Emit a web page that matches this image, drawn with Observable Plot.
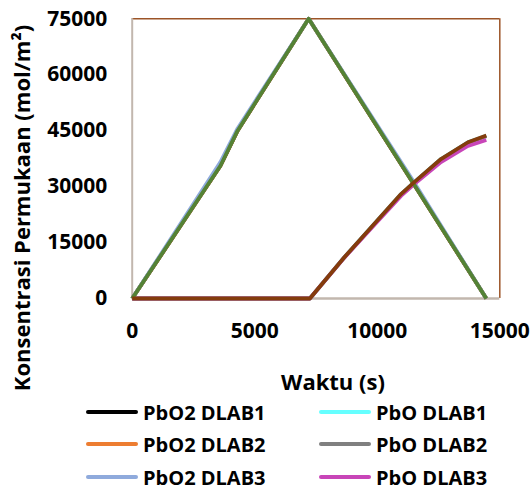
<!DOCTYPE html>
<html>
<head>
<meta charset="utf-8">
<script src="https://cdn.jsdelivr.net/npm/d3@7"></script>
<script src="https://cdn.jsdelivr.net/npm/@observablehq/plot@0.6"></script>
<style>
  html, body { margin: 0; padding: 0; background: #fff; }
  #wrap { position: relative; width: 532px; height: 489px; overflow: hidden; font-family: "Open Sans", sans-serif; font-weight: bold; }
  .lg { position: absolute; display: flex; align-items: center; font-size: 20px; color: #000; white-space: nowrap; }
  .sw { width: 52px; height: 4px; border-radius: 2px; margin-right: 5px; }
</style>
</head>
<body>
<div id="wrap"></div>
<script>
// ---- data ----
const seriesNames = ["PbO2 DLAB1", "PbO DLAB1", "PbO2 DLAB2", "PbO DLAB2", "PbO2 DLAB3", "PbO DLAB3", "PbO2 DLAB4", "PbO DLAB4"];
const seriesColors = ["#000000", "#66FFFF", "#ED7D31", "#808080", "#8FAADC", "#C845B8", "#548235", "#843C0C"];
const legendShown = [true, true, true, true, true, true, false, false];

// PbO2 time points (s)
const timePbO2 = [0, 3600, 4300, 7200, 11450, 14450];
const pbo2DLAB1 = [0, 35600, 45000, 75000, 31100, 0];
const pbo2DLAB2 = [0, 35600, 45000, 75000, 31100, 0];
const pbo2DLAB3 = [0, 36600, 45600, 75000, 31700, 0];
const pbo2DLAB4 = [0, 35600, 45000, 75000, 31100, 0];

// PbO time points (s)
const timePbO = [0, 7250, 8650, 10000, 10970, 11500, 12600, 13700, 14450];
const pboDLAB1 = [0, 0, 11000, 20900, 28000, 31150, 37400, 41900, 43600];
const pboDLAB2 = [0, 0, 11000, 20800, 27900, 31050, 37300, 41800, 43500];
const pboDLAB3 = [0, 0, 10900, 20600, 27500, 30600, 36600, 40900, 42500];
const pboDLAB4 = [0, 0, 11000, 20900, 28000, 31150, 37400, 41900, 43700];

const xTicks = [0, 5000, 10000, 15000];
const yTicks = [0, 15000, 30000, 45000, 60000, 75000];
const xTitle = "Waktu (s)";
const yTitle = "Konsentrasi Permukaan (mol/m²)";

// ---- build table ----
const seriesData = [
  [timePbO2, pbo2DLAB1], [timePbO, pboDLAB1],
  [timePbO2, pbo2DLAB2], [timePbO, pboDLAB2],
  [timePbO2, pbo2DLAB3], [timePbO, pboDLAB3],
  [timePbO2, pbo2DLAB4], [timePbO, pboDLAB4]
];
const lineMarks = seriesData.map(([ts, vs], i) =>
  Plot.line(ts.map((t, k) => ({t, v: vs[k], s: seriesNames[i]})), {
    x: "t", y: "v", stroke: seriesColors[i], strokeWidth: 3.8,
    strokeLinejoin: "round", strokeLinecap: "butt"
  })
);

const chart = Plot.plot({
  width: 532,
  height: 400,
  marginLeft: 131.7,
  marginRight: 32.7,
  marginTop: 18.3,
  marginBottom: 102,
  style: { fontFamily: "'Open Sans', sans-serif", fontSize: "21px", fontWeight: "bold", color: "#000", background: "transparent", overflow: "visible" },
  x: { domain: [0, 15000], ticks: xTicks, tickFormat: d3.format("d"), tickSize: 0, tickPadding: 25, label: null },
  y: { domain: [0, 75000], ticks: yTicks, tickFormat: d3.format("d"), tickSize: 0, tickPadding: 25, label: null },
  marks: [
    Plot.ruleY([75000], { stroke: "#9C5427", strokeWidth: 1.5 }),
    Plot.ruleX([15000], { stroke: "#9C5427", strokeWidth: 1.5 }),
    Plot.ruleX([0], { stroke: "#C2B7AE", strokeWidth: 2 }),
    Plot.ruleY([0], { stroke: "#C2B7AE", strokeWidth: 2.5 }),
    ...lineMarks
  ]
});

const wrap = document.getElementById("wrap");
wrap.appendChild(chart);

const svg = d3.select(chart);
svg.append("text")
  .attr("x", 333).attr("y", 390)
  .attr("text-anchor", "middle")
  .style("font-size", "22px").style("font-weight", "bold").attr("fill", "#000")
  .text(xTitle);
svg.append("text")
  .attr("transform", "translate(30,208) rotate(-90)")
  .attr("text-anchor", "middle")
  .style("font-size", "22px").style("font-weight", "bold").attr("fill", "#000")
  .text(yTitle);

// ---- legend (HTML, below the SVG area) ----
const legendPos = [
  [86, 412], [319, 412],
  [86, 444], [319, 444],
  [86, 477], [319, 477]
];
let li = 0;
seriesNames.forEach((name, i) => {
  if (!legendShown[i]) return;
  const [lx, ly] = legendPos[li++];
  const d = document.createElement("div");
  d.className = "lg";
  d.style.left = lx + "px";
  d.style.top = (ly - 14) + "px";
  d.style.height = "28px";
  d.innerHTML = `<div class="sw" style="background:${seriesColors[i]}"></div><span>${name}</span>`;
  wrap.appendChild(d);
});
</script>
</body>
</html>
